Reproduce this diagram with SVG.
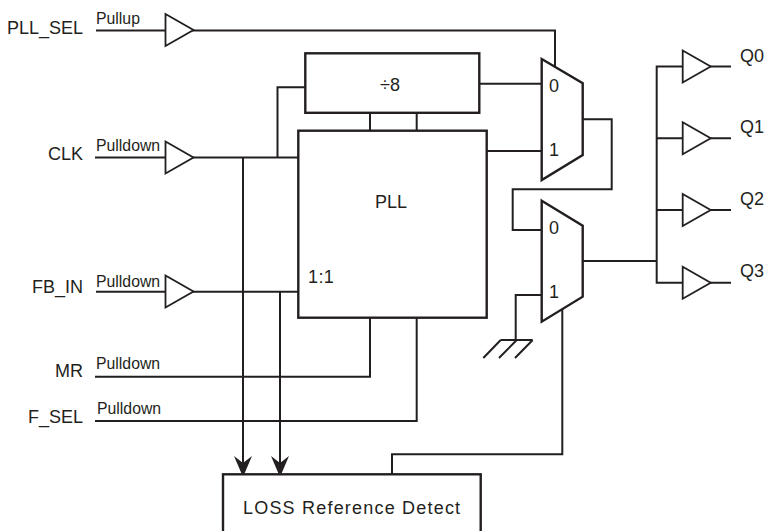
<svg xmlns="http://www.w3.org/2000/svg" width="764" height="531" viewBox="0 0 764 531">
<style>
text{font-family:"Liberation Sans",Arial,sans-serif;fill:#231f20}
.sig{font-size:18px;text-anchor:end}
.pull{font-size:15.8px}
.q{font-size:18px}
.in{font-size:18px}
.w{fill:none;stroke:#231f20;stroke-width:2;stroke-linejoin:miter}
.box{fill:#fff;stroke:#231f20;stroke-width:2.4}
.buf{fill:#fff;stroke:#231f20;stroke-width:1.8}
.mux{fill:#fff;stroke:#231f20;stroke-width:2.4}
</style>
<defs>
<polygon id="head" points="0,0 -9,-21 0,-14 9,-21" fill="#231f20"/>
<polygon id="tri" class="buf" points="0,-16 28,0 0,16"/>
</defs>
<rect width="764" height="531" fill="#fff"/>
<g id="connectors" class="w">
<path d="M96 30.5H555V66"/>
<path d="M95 157.5H298"/>
<path d="M277.5 157.5V87.3H305"/>
<path d="M96 291.7H298"/>
<path d="M243 157.5V465"/>
<path d="M280 291.7V465"/>
<path d="M95 376.7H370V317"/>
<path d="M95 421H416.7V317"/>
<path d="M370 113V131M416.7 113V131"/>
<path d="M479 83.7H542"/>
<path d="M487 151H542"/>
<path d="M583 119.3H611.7V189.3H512.7V230H542"/>
<path d="M542 295H515.7V340"/>
<path d="M500.7 340H532.7M500.7 340L483.3 358M516.7 340L499 358M532.7 340L515 358"/>
<path d="M583 261H656.7"/>
<path d="M683 66.5H656.7V282.7H683"/>
<path d="M656.7 138.3H683M656.7 210H683"/>
<path d="M710 66.5H731M710 138.3H731M710 210H731M710 282.7H731"/>
<path d="M562.3 309V454.3H392V475"/>
<use href="#head" x="243" y="477" stroke="none"/>
<use href="#head" x="280" y="477" stroke="none"/>
</g>
<g id="PLL_SEL"><text class="sig" x="83" y="34">PLL_SEL</text><text class="pull" x="96" y="24">Pullup</text><use href="#tri" x="165.5" y="30"/></g>
<g id="CLK"><text class="sig" x="83" y="160">CLK</text><text class="pull" x="96" y="151">Pulldown</text><use href="#tri" x="165.5" y="157.5"/></g>
<g id="FB_IN"><text class="sig" x="83" y="293">FB_IN</text><text class="pull" x="96" y="287">Pulldown</text><use href="#tri" x="165.5" y="291.5"/></g>
<g id="MR"><text class="sig" x="83" y="377">MR</text><text class="pull" x="96" y="369">Pulldown</text></g>
<g id="F_SEL"><text class="sig" x="83" y="422.5">F_SEL</text><text class="pull" x="97" y="414">Pulldown</text></g>
<g id="div8"><rect class="box" x="305.3" y="53.3" width="174" height="59.5"/><text class="in" x="380" y="91">÷8</text></g>
<g id="PLL"><rect class="box" x="298.3" y="130.7" width="188.4" height="187"/><text class="in" x="375" y="208.3">PLL</text><text class="in" x="308" y="282.7" letter-spacing="0.4">1:1</text></g>
<g id="mux1"><polygon class="mux" points="541.7,59 582.7,83.3 582.7,155 541.7,180"/><text class="in" x="549" y="91.7">0</text><text class="in" x="549" y="155.7">1</text></g>
<g id="mux2"><polygon class="mux" points="541.7,200.7 582.7,225.7 582.7,296.7 541.7,321.7"/><text class="in" x="549" y="234">0</text><text class="in" x="549" y="298">1</text></g>
<g id="Q0"><use href="#tri" x="682.7" y="66.5"/><text class="q" x="740" y="62">Q0</text></g>
<g id="Q1"><use href="#tri" x="682.7" y="138.3"/><text class="q" x="740" y="133">Q1</text></g>
<g id="Q2"><use href="#tri" x="682.7" y="210"/><text class="q" x="740" y="205">Q2</text></g>
<g id="Q3"><use href="#tri" x="682.7" y="282.7"/><text class="q" x="740" y="277">Q3</text></g>
<g id="loss"><rect class="box" x="223" y="474.3" width="257.7" height="70"/><text class="in" x="243" y="514" letter-spacing="1.2">LOSS Reference Detect</text></g>
</svg>
